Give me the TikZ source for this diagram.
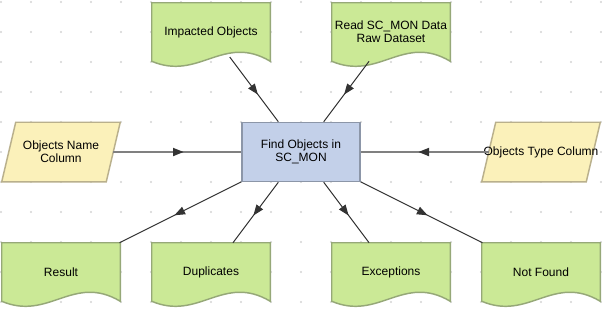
\documentclass[tikz,border=0pt]{standalone}
\usepackage{fontspec}
\setmainfont{Liberation Sans}
\usepackage{tikz}
\usetikzlibrary{arrows.meta, calc, decorations.markings}
\pgfdeclarelayer{background}
\pgfsetlayers{background,main}
\definecolor{docFill}{RGB}{203, 233, 150}
\definecolor{docLine}{RGB}{150, 168, 120}
\definecolor{inFill}{RGB}{251, 241, 186}
\definecolor{inLine}{RGB}{185, 176, 140}
\definecolor{procFill}{RGB}{195, 208, 233}
\definecolor{procLine}{RGB}{140, 150, 168}
\definecolor{arrowDark}{RGB}{51, 51, 51}
\definecolor{feedGray}{RGB}{128, 128, 128}
\definecolor{gridDot}{RGB}{212, 212, 212}
\tikzset{
  docnode/.style={minimum width=88.5pt, minimum height=43.5pt, inner sep=0pt, align=center},
  innode/.style={minimum width=78pt, minimum height=44.25pt, inner sep=0pt, align=center},
  procnode/.style={fill=procFill, draw=procLine, line width=1.1pt, minimum width=88.5pt, minimum height=44.25pt, inner sep=0pt, align=center},
  docshape/.style={fill=docFill, draw=docLine, line width=1.1pt},
  inshape/.style={fill=inFill, draw=inLine, line width=1.1pt},
  midtip/.style={postaction={decorate}, decoration={markings, mark=at position 0.55 with {\arrow{Triangle[length=8pt, width=6pt, color=arrowDark]}}}},
  flowline/.style={arrowDark, line width=0.75pt, midtip},
  feedline/.style={feedGray, line width=1.3pt, midtip}
}

\begin{document}
\begin{tikzpicture}[x=0.75pt, y=-0.75pt, font=\fontsize{9}{9.75}\selectfont]
      \useasboundingbox (0,0) rectangle (602,308);

      \node[docnode] (imp) at (211,32) {Impacted Objects};
      \node[docnode] (raw) at (391,32) {Read SC\_MON Data\\Raw Dataset};
      \node[innode] (namecol) at (61,152) {Objects Name\\Column};
      \node[procnode] (find) at (301,152) {Find Objects in\\SC\_MON};
      \node[innode] (typecol) at (541,152) {\makebox[0pt]{Objects Type Column}};
      \node[docnode] (result) at (61,272) {Result};
      \node[docnode] (dups) at (211,272) {Duplicates};
      \node[docnode] (excep) at (391,272) {Exceptions};
      \node[docnode] (notfound) at (541,272) {Not Found};

      \begin{pgfonlayer}{background}
        \fill[white] (0,0) rectangle (602,308);
        \foreach \x in {1,31,...,601}
          \foreach \y in {2,32,...,302}
            \fill[gridDot] (\x,\y) circle (0.8pt);
        \foreach \n in {imp, raw, result, dups, excep, notfound}
          \path[docshape] (\n.north west) -- (\n.north east) -- (\n.south east)
            .. controls +(-47,-28) and +(47,20) .. (\n.south west) -- cycle;
        \foreach \n in {namecol, typecol}
          \path[inshape] ($(\n.south west)+(-7,0)$) -- ($(\n.south east)+(-7,0)$)
            -- ($(\n.north east)+(7,0)$) -- ($(\n.north west)+(7,0)$) -- cycle;
      \end{pgfonlayer}

      \draw[feedline] (namecol) -- (find);
      \draw[feedline] (typecol) -- (find);
      \draw[flowline, shorten <=-4pt] (imp) -- (find);
      \draw[flowline] (raw) -- (find);
      \draw[flowline] (find) -- (result);
      \draw[flowline] (find) -- (dups);
      \draw[flowline] (find) -- (excep);
      \draw[flowline] (find) -- (notfound);
    \end{tikzpicture}
\end{document}
